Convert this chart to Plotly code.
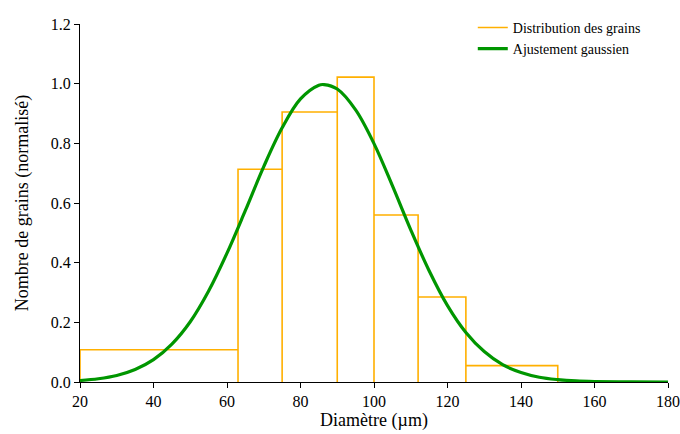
import plotly.graph_objects as go

# Histogram bin edges (µm) and normalised heights
bin_edges = [20, 63, 75, 90, 100, 112, 125, 150]
bin_heights = [0.108, 0.713, 0.905, 1.022, 0.560, 0.285, 0.055]

# Gaussian fit curve
fit_x = [20, 25, 30, 35, 40, 45, 50, 55, 60, 65, 70, 75, 80, 85, 86.4, 90, 95,
         100, 105, 110, 115, 120, 125, 130, 135, 140, 145, 150, 155, 160, 170, 180]
fit_y = [0.005, 0.011, 0.022, 0.042, 0.075, 0.127, 0.202, 0.305, 0.432, 0.575,
         0.722, 0.852, 0.949, 0.995, 0.997, 0.982, 0.912, 0.799, 0.658, 0.510,
         0.373, 0.256, 0.166, 0.102, 0.058, 0.032, 0.016, 0.008, 0.0035, 0.0015,
         0.0002, 0.0]

x_ticks = [20, 40, 60, 80, 100, 120, 140, 160, 180]
y_ticks = [0.0, 0.2, 0.4, 0.6, 0.8, 1.0, 1.2]

# Build the outline path of the histogram from the data
hx, hy = [], []
for i, h in enumerate(bin_heights):
    x0, x1 = bin_edges[i], bin_edges[i + 1]
    hx += [x0, x0, x1, x1]
    hy += [0, h, h, 0]

FONT = "Liberation Serif"
ORANGE = "#FFB000"
GREEN = "#009600"

fig = go.Figure()
fig.add_trace(go.Scatter(x=hx, y=hy, mode="lines", name="Distribution des grains",
                         line=dict(color=ORANGE, width=1.6), hoverinfo="skip"))
fig.add_trace(go.Scatter(x=fit_x, y=fit_y, mode="lines", name="Ajustement gaussien",
                         line=dict(color=GREEN, width=3.2, shape="spline")))

axis_common = dict(showline=True, linecolor="black", linewidth=1, ticks="outside",
                   ticklen=5, tickcolor="black", tickwidth=1, showgrid=False,
                   zeroline=False, mirror=False, automargin=False,
                   tickfont=dict(family=FONT, size=16, color="black"))

fig.update_xaxes(range=[20, 180], tickvals=x_ticks, ticktext=[str(v) for v in x_ticks],
                 title=dict(text="Diamètre (µm)", font=dict(family=FONT, size=18, color="black"),
                            standoff=4),
                 **axis_common)
fig.update_yaxes(range=[0, 1.2], tickvals=y_ticks, ticktext=[f"{v:.1f}" for v in y_ticks],
                 title=dict(text="Nombre de grains (normalisé)",
                            font=dict(family=FONT, size=18, color="black"), standoff=17),
                 **axis_common)

fig.update_layout(
    width=680, height=434,
    margin=dict(l=80, r=12, t=19, b=52),
    plot_bgcolor="white", paper_bgcolor="white",
    font=dict(family=FONT, size=16, color="black"),
    legend=dict(x=0.668, y=1.034, xanchor="left", yanchor="top",
                bgcolor="rgba(0,0,0,0)", font=dict(family=FONT, size=14, color="black"),
                tracegroupgap=0, itemwidth=30),
    showlegend=True,
)

fig.write_html("out.html", config={"displayModeBar": False},
               post_script="document.body.style.margin='0';document.body.style.overflow='hidden';")
